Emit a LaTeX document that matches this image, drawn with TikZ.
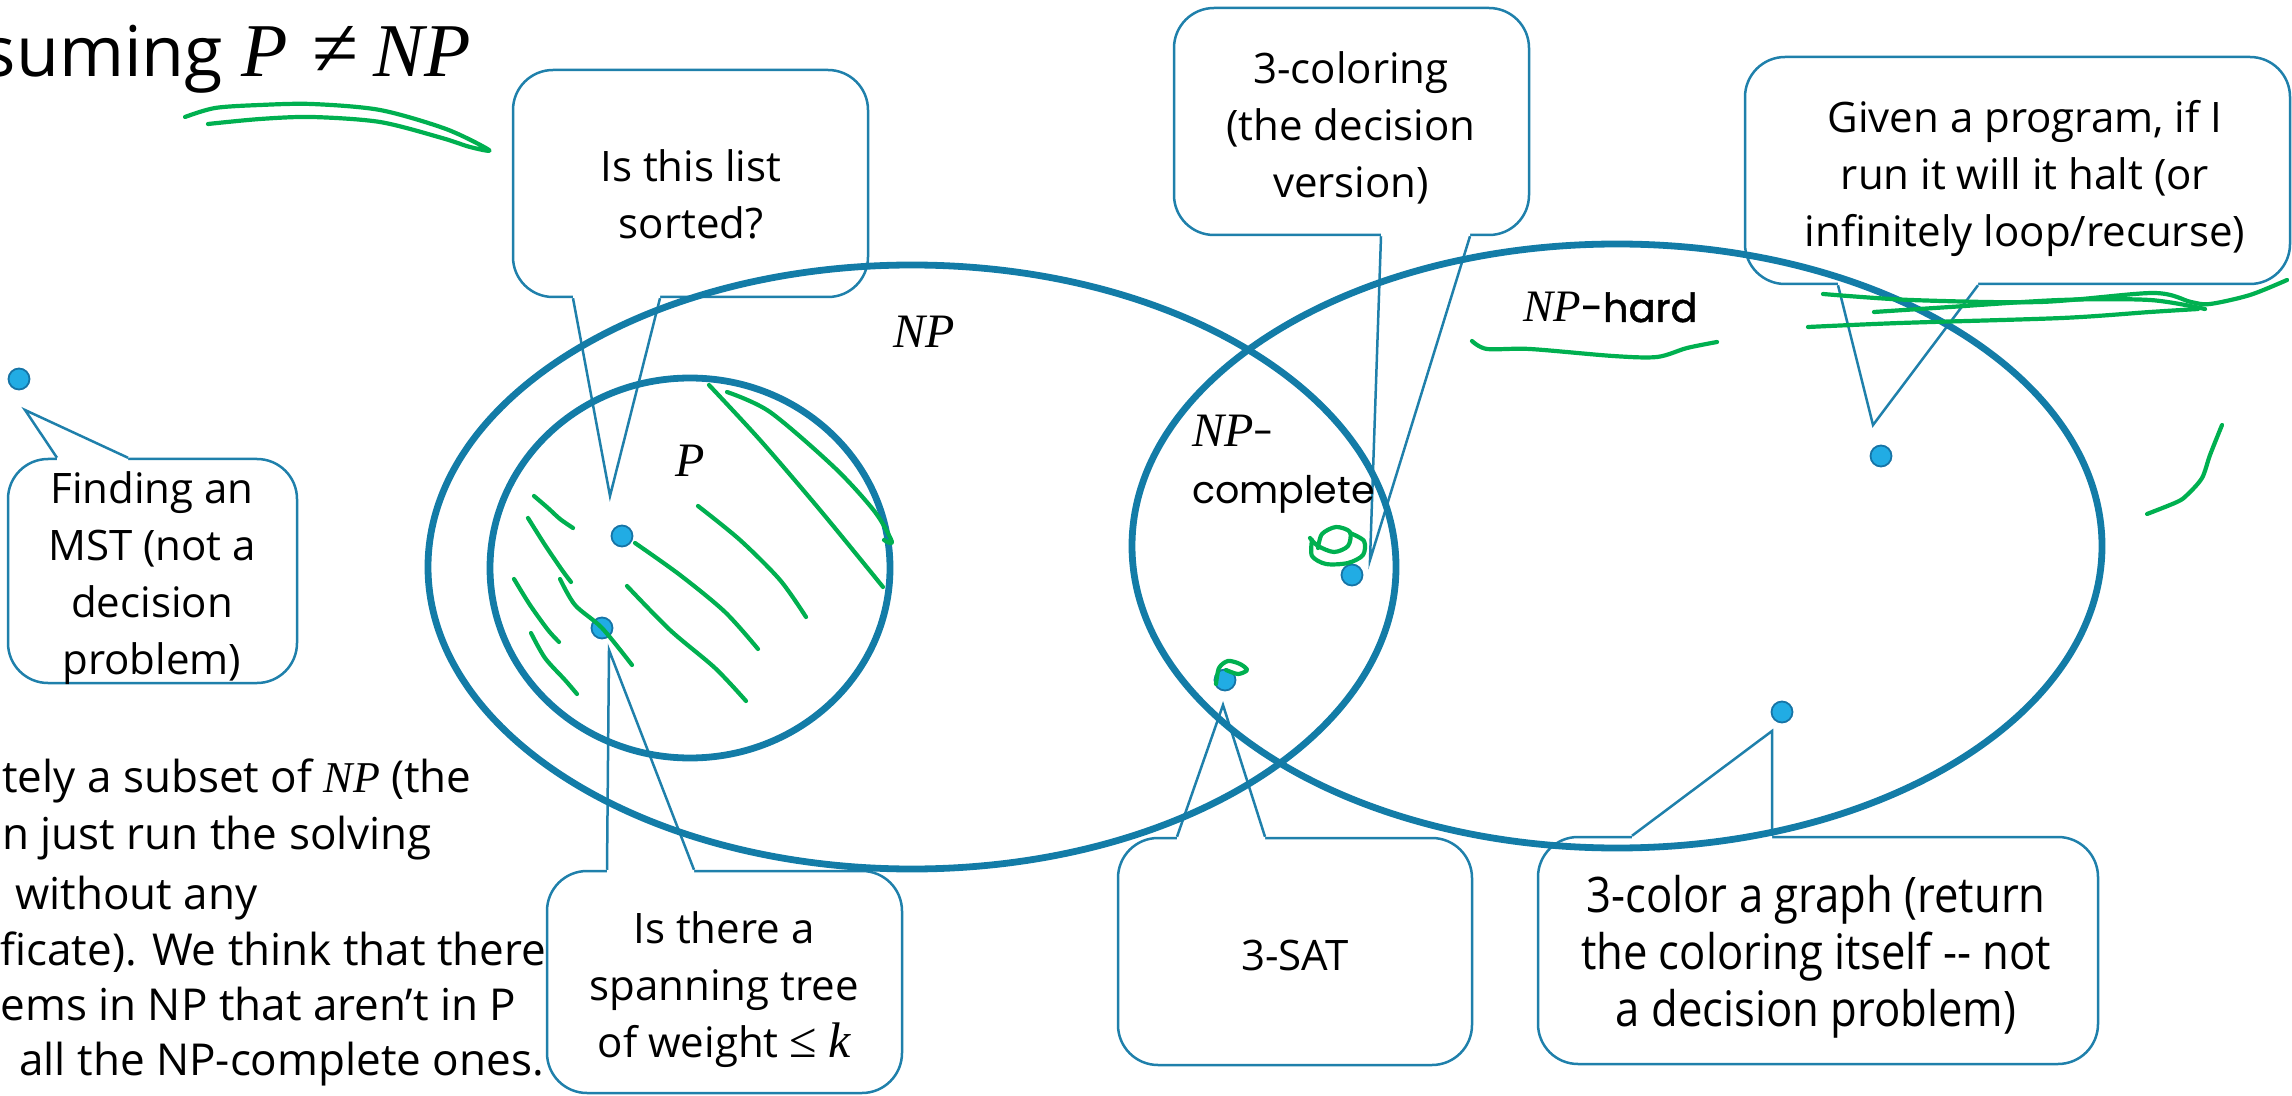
\documentclass[tikz,border=0pt]{standalone}
\usepackage{fontspec}
\setmainfont{Open Sans}
\newfontfamily\geofont{Poppins}
\newfontfamily\geobold{Poppins}[FakeBold=1.2]
\newfontfamily\mathlike{Liberation Serif}
\newfontfamily\narrowfont{Open Sans}[FakeStretch=0.89]
\newcommand\mi[1]{{\mathlike\itshape #1}}
\usetikzlibrary{calc,shapes.geometric}

\definecolor{ringblue}{RGB}{19,124,167}
\definecolor{boxblue}{RGB}{31,128,171}
\definecolor{dotfill}{RGB}{33,172,228}
\definecolor{dotedge}{RGB}{22,116,166}
\definecolor{inkgreen}{RGB}{0,176,80}

\begin{document}
\begin{tikzpicture}[x=0.5pt,y=-0.5pt,
  bubble/.style={draw=boxblue,line width=1.25pt,fill=white,rounded corners=20pt,inner sep=0pt},
  tail/.style={draw=boxblue,line width=1.25pt,line join=miter},
  ring/.style={draw=ringblue,line width=3.4pt,ellipse,inner sep=0pt},
  probdot/.style={circle,fill=dotfill,draw=dotedge,line width=0.9pt,minimum size=10.5pt,inner sep=0pt},
  txt/.style={font=\fontsize{21}{28.5}\selectfont,align=center,inner sep=0pt},
  body/.style={font=\fontsize{22}{28.5}\selectfont,anchor=base west,inner sep=0pt},
  setlabel/.style={font=\mathlike\itshape\fontsize{24}{28}\selectfont,inner sep=0pt,anchor=base},
  ink/.style={draw=inkgreen,line width=2.1pt,line cap=round,line join=round},
]
\useasboundingbox (0,0) rectangle (2292,1096);

% ---------- heading and running text ----------
\node[font=\fontsize{35}{40}\selectfont,anchor=base east,inner sep=0pt] (title) at (471,77)
  {Assuming {\fontsize{38}{40}\selectfont\mi{P}\hspace{0.32em}{\mathlike\fontsize{42}{40}\selectfont ≠}\hspace{0.2em}\mi{NP}}};

\node[body] (b1) at (2,792) {tely a subset of \mi{NP} (the};
\node[body] (b2) at (2,849) {n just run the solving};
\node[body] (b3) at (15,909) {without any};
\node[body] (b4) at (0,965) {ficate). We think that there};
\node[body] (b5) at (0,1020) {ems in NP that aren’t in P};
\node[body] (b6) at (19,1075) {all the NP-complete ones.};

% ---------- callout boxes ----------
\node[bubble,minimum width=144.5pt,minimum height=112pt] (mst) at (152.5,571) {};
\node[bubble,minimum width=177.5pt,minimum height=113.5pt] (sorted) at (690.5,183.5) {};
\node[bubble,minimum width=177.5pt,minimum height=111pt] (span) at (724.5,982) {};
\node[bubble,minimum width=177.5pt,minimum height=113.5pt] (tcol) at (1351.5,121.5) {};
\node[bubble,minimum width=272.5pt,minimum height=113.5pt] (halt) at (2017.5,170.5) {};
\node[bubble,minimum width=177pt,minimum height=113.5pt] (sat) at (1295,951.5) {};
\node[bubble,minimum width=280pt,minimum height=113.5pt] (color) at (1818,950.5) {};

% pointer tips
\coordinate (mst-tip) at (25,410);
\coordinate (sorted-tip) at (610,496);
\coordinate (span-tip) at (609,650);
\coordinate (tcol-tip) at (1370,560);
\coordinate (halt-tip) at (1873,425);
\coordinate (sat-tip) at (1223,705);
\coordinate (color-tip) at (1772,731);

% pointer roots on the box edges
\coordinate (mst-a) at (mst.north -| 57,0);
\coordinate (mst-b) at (mst.north -| 128,0);
\coordinate (sorted-a) at (sorted.south -| 573,0);
\coordinate (sorted-b) at (sorted.south -| 660,0);
\coordinate (span-a) at (span.north -| 607,0);
\coordinate (span-b) at (span.north -| 694,0);
\coordinate (tcol-a) at (tcol.south -| 1381,0);
\coordinate (tcol-b) at (tcol.south -| 1470,0);
\coordinate (halt-a) at (halt.south -| 1838,0);
\coordinate (halt-b) at (halt.south -| 1978,0);
\coordinate (sat-a) at (sat.north -| 1177,0);
\coordinate (sat-b) at (sat.north -| 1265,0);
\coordinate (color-a) at (color.north -| 1632,0);
\coordinate (color-b) at (color.north -| 1772,0);

% open the edge under each pointer, then draw the pointer sides
\foreach \c/\d in {mst/4,span/4,sat/4,color/4,sorted/-4,tcol/-4,halt/-4}{
  \fill[white] ($(\c-a)+(0,\d)$) -- (\c-a) -- (\c-tip) -- (\c-b) -- ($(\c-b)+(0,\d)$) -- cycle;
  \draw[tail] (\c-a) -- (\c-tip) -- (\c-b);
}

% callout texts
\node[txt] (mst-t) at (152,578) {Finding an\\MST (not a\\decision\\problem)};
\node[txt] (sorted-t) at (691,194) {Is this list\\sorted?};
\node[txt] (span-t) at (724,990) {Is there a\\spanning tree\\of weight {\mathlike\fontsize{25}{28.5}\selectfont ≤} {\fontsize{25}{28.5}\selectfont\mi{k}}};
\node[txt] (tcol-t) at (1351,128) {3-coloring\\(the decision\\version)};
\node[txt] (halt-t) at (2025,178) {Given a program, if I\\run it will it halt (or\\infinitely loop/recurse)};
\node[txt] (sat-t) at (1295,955) {3-SAT};
\node[txt,font=\narrowfont\fontsize{24.5}{28.5}\selectfont] (color-t) at (1816,957) {3-color a graph (return\\the coloring itself -- not\\a decision problem)};

% ---------- the sets ----------
\node[ring,minimum width=484pt,minimum height=302pt] (NPset) at (912,567) {};
\node[ring,minimum width=485pt,minimum height=302pt] (hard) at (1617,546) {};
\node[ring,minimum width=200pt,minimum height=190pt] (Pset) at (690,568) {};

\node[setlabel] (NPlab) at (924,348) {NP};
\node[setlabel] (Plab) at (690,477) {P};
\node[setlabel,anchor=base west,font=\mathlike\itshape\fontsize{22.5}{28}\selectfont] (hardlab) at (1523,322) {NP{\geobold\upshape\fontsize{20}{24}\selectfont-hard}};
\node[setlabel,anchor=base west] (complab) at (1192,447) {NP{\geofont\upshape\fontsize{19}{24}\selectfont-}};
\node[anchor=base west,inner sep=0pt,font=\geofont\fontsize{19}{24}\selectfont] (complab2) at (1192,503) {complete};

% ---------- problems ----------
\node[probdot] (d-mst) at (19,379) {};
\node[probdot] (d-sorted) at (622,536) {};
\node[probdot] (d-span) at (602,628) {};
\node[probdot] (d-tcol) at (1352,575) {};
\node[probdot] (d-sat) at (1225,680) {};
\node[probdot] (d-halt) at (1881,456) {};
\node[probdot] (d-color) at (1782,712) {};

% ---------- pen annotations ----------
\draw[ink] plot[smooth] coordinates {(185,117) (215,108) (260,105) (312,104) (380,110) (446,129) (489,150) (470,147) (442,138) (380,122) (312,117) (260,119) (208,124)};

\draw[ink] plot[smooth] coordinates {(534,496) (548,508) (560,519) (573,528)};
\draw[ink] plot[smooth] coordinates {(528,518) (545,545) (562,570) (571,582)};
\draw[ink] plot[smooth] coordinates {(514,579) (530,605) (548,630) (559,642)};
\draw[ink] plot[smooth] coordinates {(531,633) (545,658) (565,680) (577,694)};
\draw[ink] plot[smooth] coordinates {(560,579) (575,605) (602,628) (632,665)};
\draw[ink] plot[smooth] coordinates {(635,543) (680,575) (725,612) (758,649)};
\draw[ink] plot[smooth] coordinates {(627,586) (670,630) (715,668) (746,701)};
\draw[ink] plot[smooth] coordinates {(698,506) (740,540) (780,580) (806,617)};
\draw[ink] plot[smooth] coordinates {(709,385) (760,440) (820,510) (883,587)};
\draw[ink] plot[smooth] coordinates {(727,392) (770,412) (835,468) (875,512) (892,542) (884,540)};

\draw[ink] plot[smooth] coordinates {(1472,341) (1487,349) (1530,349) (1613,356) (1657,357) (1687,348) (1717,342)};

\draw[ink] plot[smooth] coordinates {(1318,548) (1322,534) (1336,527) (1350,532) (1348,546) (1334,552) (1318,546) (1310,538)};
\draw[ink] plot[smooth] coordinates {(1312,540) (1312,556) (1326,564) (1348,563) (1363,555) (1364,541) (1350,533)};
\draw[ink] plot[smooth] coordinates {(1216,684) (1219,668) (1228,661) (1240,664) (1247,670) (1238,674) (1226,670)};

\draw[ink] plot[smooth] coordinates {(1823,294) (1911,300) (2040,302) (2153,293) (2191,302) (2210,304) (2250,295) (2287,280)};
\draw[ink] plot[smooth] coordinates {(1874,312) (1950,307) (2060,300) (2150,300) (2205,309)};
\draw[ink] plot[smooth] coordinates {(1808,327) (1900,323) (2062,318) (2150,312) (2198,309)};
\draw[ink] plot[smooth] coordinates {(2222,425) (2210,455) (2202,478) (2187,495) (2177,502) (2147,514)};
\end{tikzpicture}
\end{document}
